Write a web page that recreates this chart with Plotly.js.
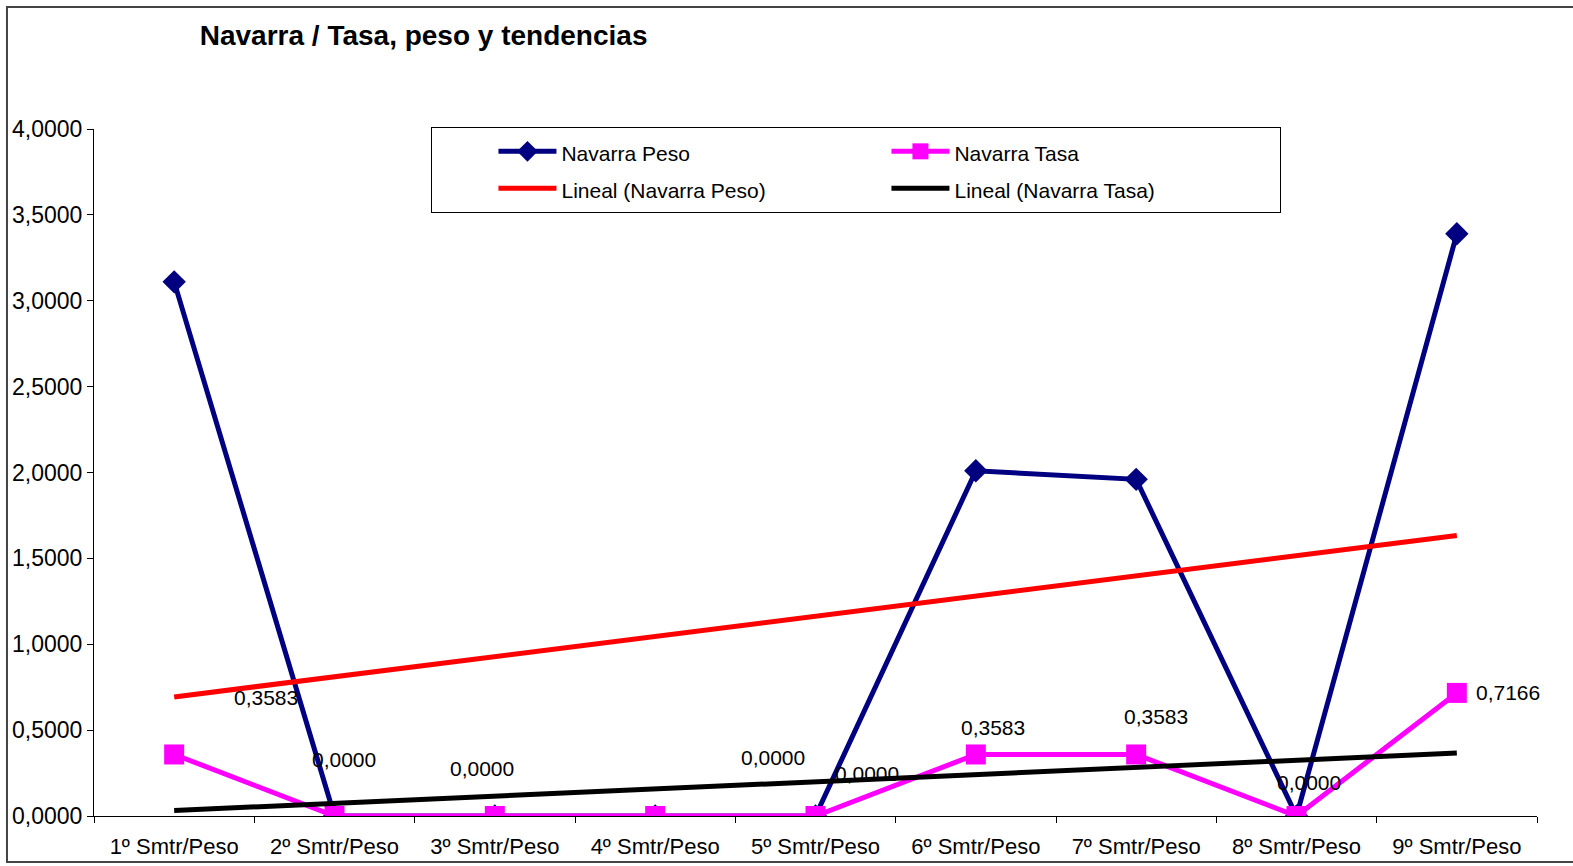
<!DOCTYPE html>
<html>
<head>
<meta charset="utf-8">
<script src="https://cdn.plot.ly/plotly-3.0.1.min.js"></script>
<style>
html,body{margin:0;padding:0;background:#fff;}
#chart{width:1573px;height:866px;}
</style>
</head>
<body>
<div id="chart"></div>
<script>
// ---- data ----
const categories = ["1º Smtr/Peso","2º Smtr/Peso","3º Smtr/Peso","4º Smtr/Peso","5º Smtr/Peso","6º Smtr/Peso","7º Smtr/Peso","8º Smtr/Peso","9º Smtr/Peso"];
const pesoValues = [3.11, 0, 0, 0, 0, 2.01, 1.96, 0, 3.39];
const tasaValues = [0.3583, 0, 0, 0, 0, 0.3583, 0.3583, 0, 0.7166];
const yTickVals = [0, 0.5, 1, 1.5, 2, 2.5, 3, 3.5, 4];
const seriesNames = ["Navarra Peso", "Navarra Tasa", "Lineal (Navarra Peso)", "Lineal (Navarra Tasa)"];

// label offsets (px) for the data labels of "Navarra Tasa"
const labelDx = [92, 9, -13, 118, 51, 17, 20, 12, 51];
const labelDy = [57, 57, 48, 59, 43, 27, 38, 34, 0];

// linear trend (least squares), as the spreadsheet trendline
function linearTrend(vals){
  const n = vals.length;
  const xs = vals.map((_, i) => i + 1);
  const mx = xs.reduce((a,b)=>a+b,0)/n;
  const my = vals.reduce((a,b)=>a+b,0)/n;
  let sxy = 0, sxx = 0;
  for (let i=0;i<n;i++){ sxy += (xs[i]-mx)*(vals[i]-my); sxx += (xs[i]-mx)*(xs[i]-mx); }
  const b = sxy/sxx, a = my - b*mx;
  return xs.map(x => a + b*x);
}
const pesoTrend = linearTrend(pesoValues);
const tasaTrend = linearTrend(tasaValues);

const fontFam = "Liberation Sans, Arial, sans-serif";
const legName = s => '<span style="font-size:21px">' + s + '</span>';

const traces = [
  {x: categories, y: pesoValues, name: legName(seriesNames[0]), legendgroup: "a", type: "scatter", mode: "lines+markers",
   line: {color: "#000080", width: 5}, marker: {symbol: "diamond", size: 18, color: "#000080"}},
  {x: categories, y: tasaValues, name: legName(seriesNames[1]), legendgroup: "b", type: "scatter", mode: "lines+markers",
   line: {color: "#FF00FF", width: 5}, marker: {symbol: "square", size: 20, color: "#FF00FF"}},
  {x: categories, y: pesoTrend, name: legName(seriesNames[2]), legendgroup: "a", type: "scatter", mode: "lines",
   line: {color: "#FF0000", width: 5}},
  {x: categories, y: tasaTrend, name: legName(seriesNames[3]), legendgroup: "b", type: "scatter", mode: "lines",
   line: {color: "#000000", width: 5}}
];

const fmt = v => v.toFixed(4).replace(".", ",");
const annotations = tasaValues.map((v, i) => ({
  x: categories[i], y: v, xref: "x", yref: "y", text: fmt(v), showarrow: false,
  xshift: labelDx[i], yshift: labelDy[i], font: {family: fontFam, size: 21, color: "#000"}
}));

const layout = {
  width: 1573, height: 866,
  margin: {l: 94, r: 36, t: 129, b: 50, pad: 0},
  paper_bgcolor: "#fff", plot_bgcolor: "#fff",
  separators: ",.",
  font: {family: fontFam, size: 22, color: "#000"},
  title: {text: "<b>Navarra / Tasa, peso y tendencias</b>", xref: "container", yref: "container",
          x: 0.2693, xanchor: "center", y: 0.959, yanchor: "middle",
          font: {family: fontFam, size: 28, color: "#000"}},
  showlegend: true,
  legend: {orientation: "h", x: 0.2335, xanchor: "left", y: 1.003, yanchor: "top",
           bordercolor: "#000", borderwidth: 1, bgcolor: "#fff",
           itemwidth: 58, entrywidth: 320, font: {family: fontFam, size: 26, color: "#000"},
           traceorder: "grouped", tracegroupgap: 0,
           title: {text: "&nbsp;&nbsp;&nbsp;&nbsp;&nbsp;&nbsp;&nbsp;&nbsp;&nbsp;", side: "left", font: {size: 21}}},
  xaxis: {type: "category", range: [-0.5, 8.5], showgrid: false, zeroline: false,
          showline: true, linecolor: "#000", linewidth: 1, ticks: "outside", ticklen: 6,
          tickcolor: "#000", tickson: "boundaries", tickfont: {size: 22}, ticklabelstandoff: 11,
          fixedrange: true},
  yaxis: {range: [0, 4], tickvals: yTickVals, tickformat: ".4f", showgrid: false, zeroline: false,
          showline: true, linecolor: "#000", linewidth: 1, ticks: "outside", ticklen: 6,
          tickcolor: "#000", tickfont: {size: 23}, fixedrange: true},
  annotations: annotations,
  shapes: [{type: "rect", xref: "paper", yref: "paper", x0: -0.0603, x1: 1.04, y0: -0.067, y1: 1.1776,
            line: {color: "#444", width: 2}, fillcolor: "rgba(0,0,0,0)", layer: "below"}]
};

Plotly.newPlot("chart", traces, layout, {displayModeBar: false, staticPlot: true});
</script>
</body>
</html>
